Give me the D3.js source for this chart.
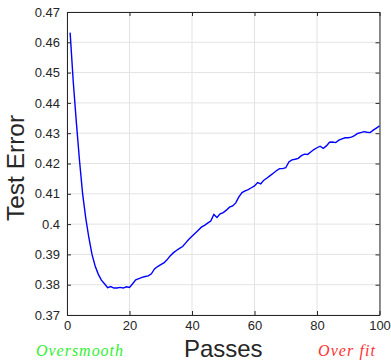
<!DOCTYPE html>
<html>
<head>
<meta charset="utf-8">
<script src="https://cdn.jsdelivr.net/npm/d3@7"></script>
<style>
  body { margin: 0; background: #fff; }
  svg { display: block; font-family: "Liberation Sans", Arial, sans-serif; }
</style>
</head>
<body>
<figure id="chart" style="margin:0"></figure>
<script>
// passes 1..100
const passes = d3.range(1, 101);
const testError = [
  0.4632, 0.4470, 0.4335, 0.4210, 0.4100, 0.4020, 0.3955, 0.3900, 0.3862, 0.3835,
  0.3815, 0.3803, 0.3790, 0.3794, 0.3789, 0.3789, 0.3791, 0.3789, 0.3793, 0.3791,
  0.3803, 0.3816, 0.3820, 0.3824, 0.3827, 0.3829, 0.3836, 0.3852, 0.3860, 0.3866,
  0.3872, 0.3882, 0.3895, 0.3905, 0.3913, 0.3920, 0.3926, 0.3938, 0.3950, 0.3960,
  0.3970, 0.3980, 0.3990, 0.3996, 0.4003, 0.4010, 0.4032, 0.4022, 0.4034, 0.4038,
  0.4046, 0.4056, 0.4060, 0.4070, 0.4090, 0.4104, 0.4110, 0.4114, 0.4120, 0.4126,
  0.4137, 0.4133, 0.4145, 0.4152, 0.4160, 0.4168, 0.4176, 0.4183, 0.4183, 0.4186,
  0.4205, 0.4212, 0.4214, 0.4217, 0.4226, 0.4231, 0.4230, 0.4238, 0.4246, 0.4252,
  0.4257, 0.4250, 0.4258, 0.4270, 0.4271, 0.4269, 0.4277, 0.4281, 0.4285, 0.4285,
  0.4287, 0.4292, 0.4299, 0.4302, 0.4305, 0.4303, 0.4302, 0.4310, 0.4317, 0.4324
];
const xTicks = [0, 20, 40, 60, 80, 100];
const yTicks = [0.37, 0.38, 0.39, 0.40, 0.41, 0.42, 0.43, 0.44, 0.45, 0.46, 0.47];
const yTickLabels = ["0.37", "0.38", "0.39", "0.4", "0.41", "0.42", "0.43", "0.44", "0.45", "0.46", "0.47"];

const W = 391, H = 360;
const plotL = 67, plotR = 379.5, plotT = 12, plotB = 315;
const axisColor = "#262626";

const svg = d3.select("figure#chart")
  .append("svg")
  .attr("width", W)
  .attr("height", H);

const x = d3.scaleLinear().domain([0, 100]).range([plotL, plotR]);
const y = d3.scaleLinear().domain([0.37, 0.47]).range([plotB, plotT]);

// grid lines
svg.append("g")
  .selectAll("line")
  .data(xTicks)
  .enter()
  .append("line")
  .attr("x1", d => x(d)).attr("x2", d => x(d))
  .attr("y1", plotT).attr("y2", plotB)
  .attr("stroke", "#e3e3e3");

svg.append("g")
  .selectAll("line")
  .data(yTicks)
  .enter()
  .append("line")
  .attr("x1", plotL).attr("x2", plotR)
  .attr("y1", d => y(d)).attr("y2", d => y(d))
  .attr("stroke", "#e3e3e3");

// the curve
const line = d3.line()
  .x((d, i) => x(passes[i]))
  .y(d => y(d));

svg.append("path")
  .datum(testError)
  .attr("d", line)
  .attr("fill", "none")
  .attr("stroke", "#0000ff")
  .attr("stroke-width", 1.4);

// axes (ticks inward, box on)
const xAxis = svg.append("g")
  .attr("transform", "translate(0," + plotB + ")")
  .call(d3.axisBottom(x).tickValues(xTicks).tickSizeInner(-4).tickSizeOuter(0).tickPadding(6));
const yAxis = svg.append("g")
  .attr("transform", "translate(" + plotL + ",0)")
  .call(d3.axisLeft(y).tickValues(yTicks).tickFormat((d, i) => yTickLabels[i]).tickSizeInner(-4).tickSizeOuter(0).tickPadding(7));
const xTop = svg.append("g")
  .attr("transform", "translate(0," + plotT + ")")
  .call(d3.axisTop(x).tickValues(xTicks).tickSizeInner(-4).tickSizeOuter(0).tickFormat(""));
const yRight = svg.append("g")
  .attr("transform", "translate(" + plotR + ",0)")
  .call(d3.axisRight(y).tickValues(yTicks).tickSizeInner(-4).tickSizeOuter(0).tickFormat(""));

[xAxis, yAxis, xTop, yRight].forEach(g => {
  g.selectAll("path").attr("stroke", axisColor);
  g.selectAll("line").attr("stroke", axisColor);
  g.selectAll("text")
    .attr("fill", axisColor)
    .style("font-size", "13px")
    .style("font-family", "'Liberation Sans', Arial, sans-serif");
});

// axis titles
svg.append("text")
  .attr("x", (plotL + plotR) / 2)
  .attr("y", 356.5)
  .attr("text-anchor", "middle")
  .attr("fill", axisColor)
  .style("font-size", "24px")
  .text("Passes");

svg.append("text")
  .attr("transform", "translate(24,168) rotate(-90)")
  .attr("text-anchor", "middle")
  .attr("fill", axisColor)
  .style("font-size", "24.5px")
  .text("Test Error");

// annotations
svg.append("text")
  .attr("x", 36)
  .attr("y", 356)
  .attr("fill", "#33ee33")
  .attr("textLength", 87)
  .attr("lengthAdjust", "spacing")
  .style("font-family", "'Liberation Serif', 'Times New Roman', serif")
  .style("font-style", "italic")
  .style("font-size", "16px")
  .text("Oversmooth");

svg.append("text")
  .attr("x", 318)
  .attr("y", 356)
  .attr("fill", "#ff3333")
  .attr("textLength", 57)
  .attr("lengthAdjust", "spacing")
  .style("font-family", "'Liberation Serif', 'Times New Roman', serif")
  .style("font-style", "italic")
  .style("font-size", "16px")
  .text("Over fit");
</script>
</body>
</html>
